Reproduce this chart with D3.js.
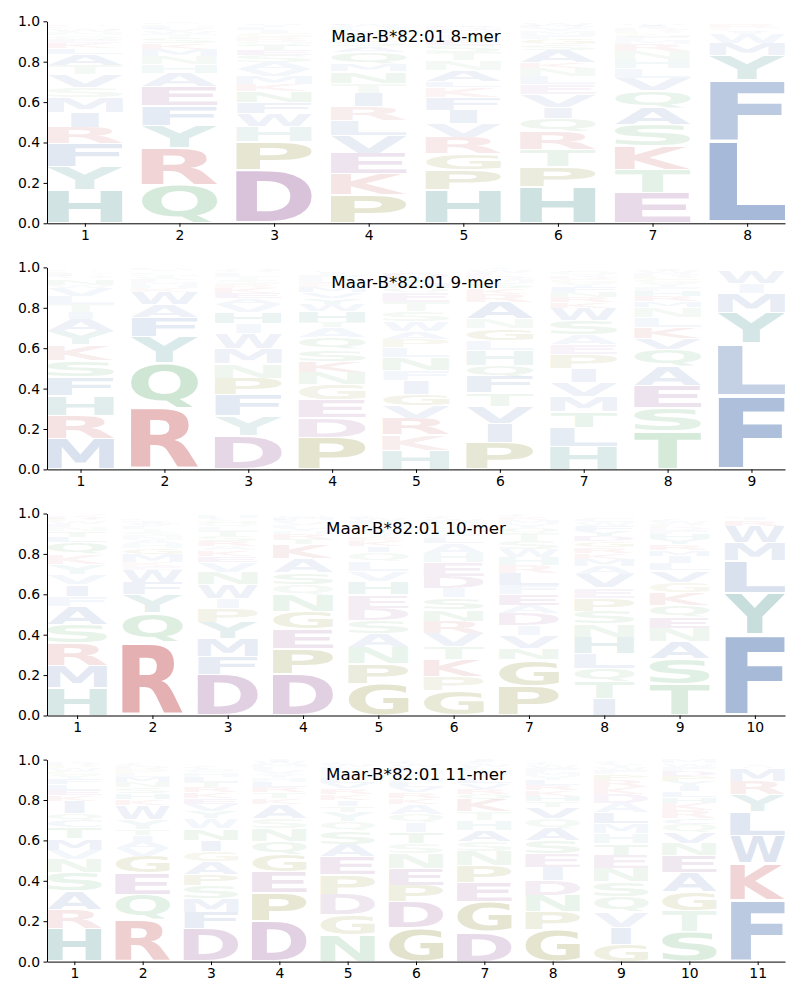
<!DOCTYPE html>
<html>
<head>
<meta charset="utf-8">
<script src="https://cdn.jsdelivr.net/npm/d3@7"></script>
<style>
  body { margin: 0; background: #fff; }
  svg text { font-family: "DejaVu Sans", sans-serif; }
</style>
</head>
<body>
<svg id="chart" width="800" height="1000"></svg>
<script>
// letters listed bottom -> top, values are percent of the stack
const allele = 'Maar-B*82:01';
const peptideLengths = [8, 9, 10, 11];

const logo8 = [
    ['HYFRIMSVTALKEQNWGPDC', [16.5, 11.5, 11.5, 8, 7.5, 7.5, 5, 6, 4.5, 5.5, 3, 2.5, 2, 2, 1.5, 1.2, 1, 0.8, 0.5, 0.5]],
    ['QRYFEAHNMKSTWVLGPDIC', [19, 18.5, 11, 9.9, 9.4, 6.6, 4.2, 4, 3.5, 3, 2.5, 2, 1.5, 1, 1, 0.8, 0.5, 0.5, 0.4, 0.3]],
    ['DPHWFNKMVASETQRGILYC', [26.5, 14, 7.3, 6.5, 5.6, 5.4, 3.5, 4, 3.5, 3.5, 3.2, 2.5, 2.5, 2.2, 2, 2, 1.5, 1.2, 1, 0.5]],
    ['PKEVLRITNMQASFGYHWDC', [14, 10.5, 10.2, 8.6, 7.4, 6.9, 6.9, 5, 5.7, 3.5, 6, 3, 2.5, 2, 2, 1.5, 1.2, 1, 0.8, 0.5]],
    ['HPGRVIFKLANTSEQYMDWC', [16.5, 10, 8, 8, 6.8, 6.8, 6.2, 5, 3, 5.5, 5, 4, 3.5, 3, 2, 1.5, 1.2, 1, 0.8, 0.5]],
    ['HPTRQIVELNKASGFMYDWC', [18, 10, 8.4, 8.7, 7, 5.5, 6, 5, 4, 4, 3, 6, 3, 2.5, 2, 1.8, 1.5, 1.2, 1, 0.5]],
    ['ETKSAQVLHNRMFGPDIYWC', [15, 11.7, 11.6, 10.5, 8.3, 8.5, 6.4, 4.5, 4.5, 4, 3.5, 2, 1.8, 1.5, 1.5, 1.2, 1, 0.8, 0.7, 0.5]],
    ['LFYMWIVKCR', [40.7, 30.4, 12.1, 6, 4.5, 1.2, 0.8, 0.5, 0.5, 2]]
];

const logo9 = [
    ['MRHFSKYAITLVWNQEGPDC', [15, 11.6, 9.9, 9.2, 8.2, 7.7, 6.8, 6, 3.5, 4, 4, 4, 1.5, 3, 1.2, 1, 0.8, 0.6, 0.5, 0.4]],
    ['RQYFAWKHMESTNLVIGPDC', [30.1, 22.5, 12.9, 9.9, 6.2, 6, 2, 1.5, 1.5, 1.2, 1, 1, 0.8, 0.8, 0.6, 0.5, 0.4, 0.4, 0.3, 0.2]],
    ['DYFPNMWIHVAEKRSTLQGC', [16.7, 9.9, 10.4, 8.2, 7.1, 7.7, 7.4, 5, 5.5, 4, 3, 2.5, 2.5, 2, 2, 2, 1.5, 1.2, 0.8, 0.5]],
    ['PDEGNKSQATHWYVMRLFIC', [15.7, 9.7, 9, 7.7, 6, 5.5, 5.7, 6, 5, 2.5, 5.5, 3.5, 3, 3, 2.5, 2, 2, 2, 1.5, 1]],
    ['HKRVGIFNLPAWSTEQMYDC', [9.5, 7.5, 8, 6.5, 5.8, 6.8, 5, 6.5, 5, 4, 3.5, 5, 5, 4.5, 4.5, 2.5, 2.5, 2.5, 3, 1]],
    ['PIVTFQHLGNARKSMDEWCY', [13.3, 9.5, 8.5, 6.5, 8, 5.5, 7.5, 5, 5.8, 5, 8, 4, 3, 2.5, 2, 1.5, 1.5, 1, 1, 0.5]],
    ['HLTMVIPEASWKRNFYGDQC', [11.5, 9.4, 7.9, 7.4, 6.8, 6.8, 7, 5, 5, 7, 6, 3, 2.5, 2.5, 2.5, 2, 2, 1.5, 2, 1]],
    ['TSEAQVKLNMRHFYGPDWIC', [18.7, 11.6, 11.1, 9.6, 8.4, 5.4, 5.6, 5, 5, 3, 2.5, 2.5, 2, 2, 2, 1.5, 1.5, 1.5, 0.8, 0.5]],
    ['FLYMIWVC', [36.5, 25.9, 15.3, 9.4, 5, 6, 0.5, 0.4]]
];

const logo10 = [
    ['HMRSAFIVYKQLTNEWPDCG', [13.8, 11, 10.9, 9.2, 9.1, 5, 5.8, 5, 5, 5, 6, 2.5, 3, 2, 1.5, 1.5, 1, 1, 0.8, 0.5]],
    ['RQYFWEKMGHANSTLVIDPC', [36.3, 14.6, 8.9, 6.2, 6, 2, 2, 4, 3, 2, 2, 2, 2, 1.5, 1.5, 1, 1, 0.8, 0.7, 0.5]],
    ['DFMYPIWNVEKARSTLQGCH', [20.4, 8.9, 8.9, 7.9, 6.8, 5, 7, 6, 5, 3, 3, 2, 2.5, 2.5, 2.5, 2, 2, 1.5, 1, 1]],
    ['DPEGNQSAKTRHYLVFMIWC', [20.4, 12.6, 9.9, 8.7, 8, 5, 6, 7, 7, 2.5, 2.5, 1.5, 1.5, 1.5, 1.5, 1, 1, 0.8, 0.5, 0.2]],
    ['GPNASDEHVLQIKRTYMFWC', [15.5, 10, 8.2, 7, 6.5, 6, 6.5, 6.5, 5, 5, 4.5, 3, 2.5, 2, 2, 2, 2, 2, 1, 1]],
    ['GPKTVRNSIDEHALFYQMWC', [12.3, 7.2, 8, 6.5, 6.6, 6, 5.7, 6, 4.5, 6, 7, 4.5, 5, 2.5, 2, 2, 2, 2, 1.5, 1]],
    ['PGNVIDAEFLRHWSTQYMKC', [14.5, 13.1, 5.8, 6.3, 4.7, 6, 4, 5.5, 4.5, 6, 4, 4, 4, 4, 4, 2.5, 2, 2, 1.5, 1]],
    ['ITQLHNSPEVAMKRGDYFWC', [8.5, 8, 7, 7.2, 8, 6.5, 6.5, 6.5, 5, 6.5, 4, 3.5, 3, 3, 3, 2.5, 2.5, 2.5, 2, 2]],
    ['TSANEQKGVLIMRYHFDPWC', [15.5, 12.9, 8, 6.8, 5.5, 5.8, 6.5, 5, 5.8, 3.5, 3.5, 3, 3, 2.5, 2.5, 2, 1.5, 1.5, 1, 1]],
    ['FYLMWRIKV', [40, 20.8, 15.8, 9, 8.3, 3, 1, 0.8, 0.5]]
];

const logo11 = [
    ['HRASNVMTCQIKELFYGWPD', [16.5, 9.4, 8.9, 9.5, 6.5, 4.5, 5.5, 5.8, 3.5, 3.5, 6, 3, 2.5, 2.5, 2.5, 2, 2, 1.5, 1.5, 1]],
    ['RQEGVAITYWKHSNMLPDC', [20.7, 12.6, 10.4, 8.3, 4, 3.5, 3, 3, 5, 7, 3, 3, 3, 2.5, 2.5, 2, 2, 1.5, 1]],
    ['DFMSPAGINWYVEKRTLHQC', [16.5, 7.9, 6.7, 6.4, 5.6, 6.5, 5, 5.5, 5.8, 5, 3.5, 3.5, 3, 3, 2.5, 2.5, 2.5, 2, 2, 1.5]],
    ['DPEGQNSAKTRLHYVFMWIC', [20, 13.9, 10.6, 8.7, 6.3, 6.2, 5, 7, 3, 3, 2.5, 2.5, 2, 2, 2, 1.5, 1.5, 1, 1, 0.5]],
    ['NGDPEASQYTIKRVLHMFWC', [13.3, 10, 10, 9.8, 9, 6, 6.6, 4.5, 4.5, 3, 3, 3, 3, 2.5, 2.5, 2, 2, 1.5, 1, 1]],
    ['GDPENSTIQAKRVLHYMFWC', [16.5, 13, 8, 8.5, 7.5, 5, 5.5, 5, 4, 5, 3, 3, 2.5, 2.5, 2, 2, 2, 1.5, 1.5, 1]],
    ['DGEPNSAHTKQRVLYMFWCI', [14.8, 14.8, 9.6, 8.2, 7.2, 4.8, 5.7, 5, 4, 6, 3, 2.5, 2.5, 2.5, 2, 2, 1.5, 1.5, 1, 1]],
    ['GPNDIESAQVTHKRLYMFWC', [15.7, 9.1, 8, 7.5, 6.5, 6.5, 6.5, 6, 5, 5.5, 3, 2.5, 3, 2.5, 2.5, 2, 2, 2, 1.5, 1]],
    ['GIVQSNETHMLADKRPFWYC', [8.6, 8.5, 7.5, 7.5, 7.5, 6.5, 6.5, 5.8, 5, 5, 5.5, 4.5, 4.5, 3.5, 3.5, 3, 2, 1.5, 1.5, 1]],
    ['STGAENVQCRKHLIYPDFWM', [14.8, 10.1, 9.5, 9.5, 8.5, 6.3, 5.3, 4, 3, 4, 3.5, 3, 3, 2.5, 2.5, 2.5, 2.5, 2, 1.5, 2]],
    ['FKWLYRMVIC', [30.6, 18, 13.9, 11.9, 8.3, 6.7, 6.5, 0.8, 0.6, 0.4]]
];

const logos = [logo8, logo9, logo10, logo11];

// residue groups -> colour
const groupColors = {
    hydrophobic: '#4c72b0',
    basic: '#c44e52',
    polar: '#55a868',
    acidic: '#8e4c92',
    special: '#7f7f1a',
    aromatic: '#2f8580'
};
const groupLetters = {
    hydrophobic: 'AVLIMFWC',
    basic: 'KR',
    polar: 'QNST',
    acidic: 'DE',
    special: 'GP',
    aromatic: 'HY'
};
const letterColor = {};
Object.entries(groupLetters).forEach(([g, s]) => s.split('').forEach((c) => (letterColor[c] = groupColors[g])));

const svg = d3.select('#chart');
const plotLeft = 47;
const plotRight = 785;
const panelTop = 21.3;
const panelStep = 246.1;
const panelHeight = 202;
const letterWidth = 0.8;
const vpad = 0.07;

// glyph ink extents from a canvas
const fontPx = 200;
const ctx = document.createElement('canvas').getContext('2d');
ctx.font = `bold ${fontPx}px "DejaVu Sans"`;
const inkCache = {};
function ink(c) {
    if (!inkCache[c]) {
        const m = ctx.measureText(c);
        inkCache[c] = {
            l: -m.actualBoundingBoxLeft,
            r: m.actualBoundingBoxRight,
            t: -m.actualBoundingBoxAscent,
            b: m.actualBoundingBoxDescent
        };
    }
    return inkCache[c];
}
const refInk = ink('E');

logos.forEach((logo, pi) => {
    const n = peptideLengths[pi];
    const top = panelTop + pi * panelStep;

    const x = d3.scaleLinear().domain([1 - letterWidth / 2 - 0.0, n + letterWidth / 2]).range([plotLeft, plotRight]);
    const y = d3.scaleLinear().domain([0, 1]).range([top + panelHeight, top]);

    const g = svg.append('g');
    const letters = g.append('g');

    logo.forEach(([chars, vals], i) => {
        const pos = i + 1;
        const boxW = x(pos + letterWidth / 2) - x(pos - letterWidth / 2);
        let base = 0;
        chars.split('').forEach((c, k) => {
            const p = vals[k] / 100;
            const yB = y(base);
            const yT = y(base + p);
            base += p;
            const h = yB - yT;
            const e = ink(c);
            const gh = h * (1 - vpad);
            const sy = gh / (e.b - e.t);
            const sx = Math.min(boxW / (e.r - e.l), boxW / (refInk.r - refInk.l));
            const gw = sx * (e.r - e.l);
            const gx = x(pos) - gw / 2;
            const gy = yT + (h - gh) / 2;
            letters
                .append('text')
                .attr('font-size', fontPx)
                .attr('font-weight', 'bold')
                .attr('fill', letterColor[c])
                .attr('fill-opacity', Math.min(1, 0.03 + 1.15 * p))
                .attr('transform', `translate(${gx},${gy}) scale(${sx},${sy}) translate(${-e.l},${-e.t})`)
                .text(c);
        });
    });

    const yAxis = g
        .append('g')
        .attr('transform', `translate(${plotLeft},0)`)
        .call(
            d3.axisLeft(y).tickValues([0, 0.2, 0.4, 0.6, 0.8, 1]).tickFormat(d3.format('.1f')).tickSize(3.5).tickSizeOuter(0).tickPadding(3.5)
        );
    const xAxis = g
        .append('g')
        .attr('transform', `translate(0,${top + panelHeight})`)
        .call(d3.axisBottom(x).tickValues(d3.range(1, n + 1)).tickFormat(d3.format('d')).tickSize(3.5).tickSizeOuter(0).tickPadding(3.5));

    [yAxis, xAxis].forEach((a) => {
        a.attr('font-family', '"DejaVu Sans", sans-serif').attr('font-size', 13.9);
        a.selectAll('path, line').attr('stroke', '#000').attr('stroke-width', 1);
        a.selectAll('text').attr('fill', '#000');
    });

    g.append('text')
        .attr('x', (plotLeft + plotRight) / 2)
        .attr('y', top + 20.4)
        .attr('text-anchor', 'middle')
        .attr('font-size', 16.7)
        .text(`${allele} ${n}-mer`);
});
</script>
</body>
</html>
